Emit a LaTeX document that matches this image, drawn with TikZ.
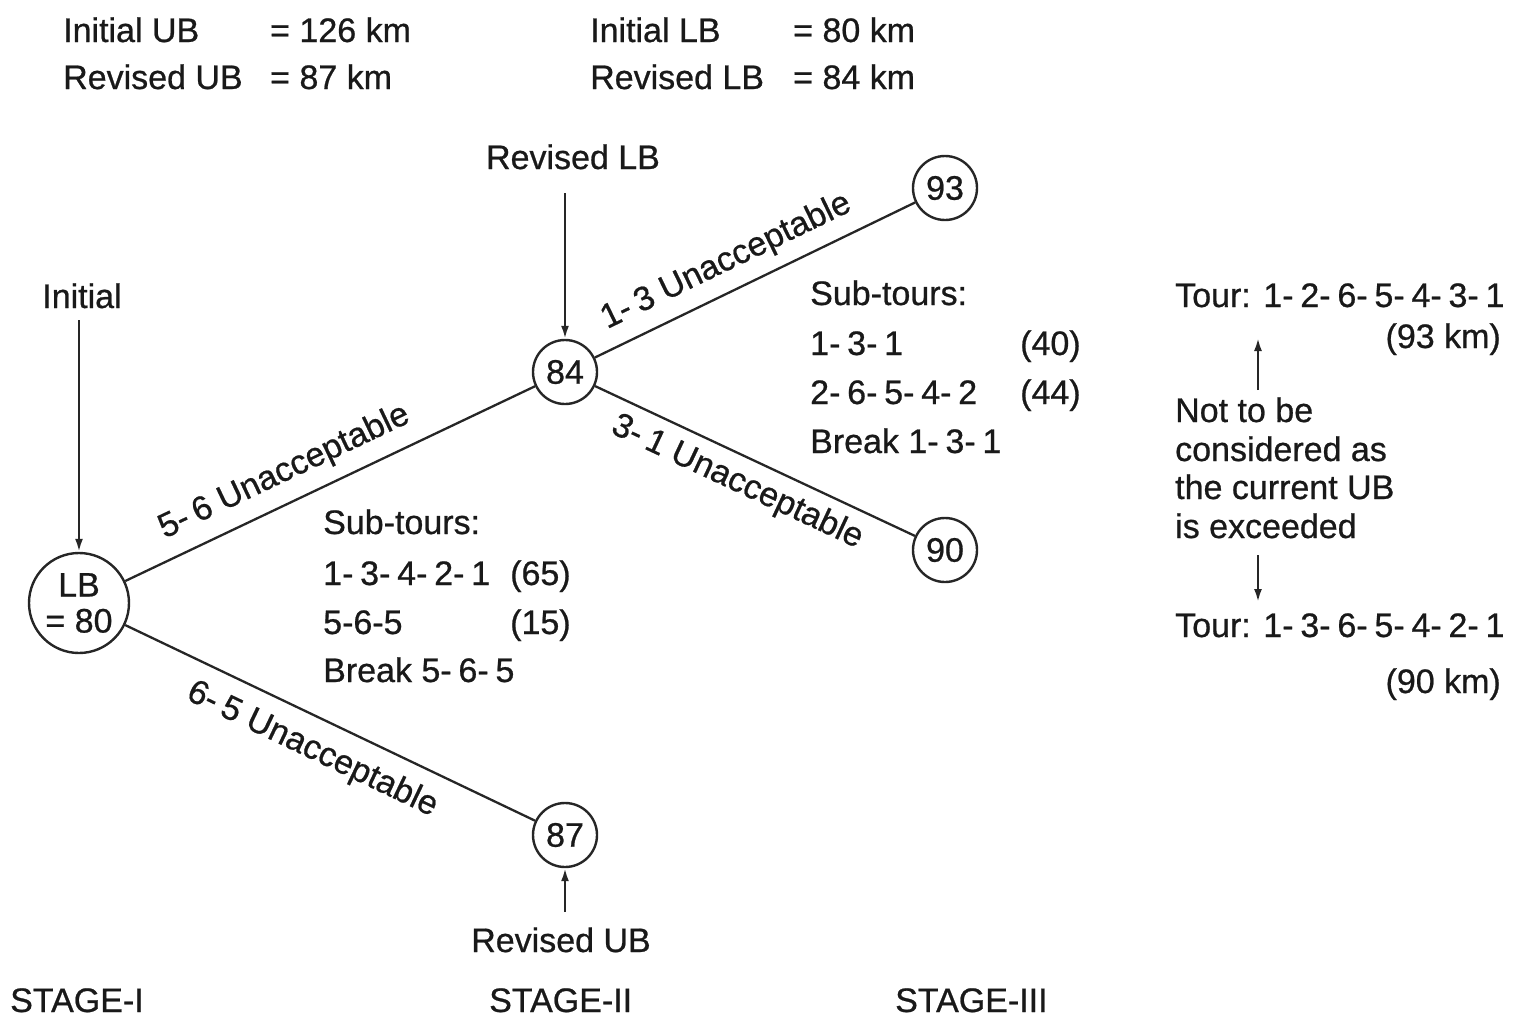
\documentclass[tikz,border=0pt]{standalone}
\usepackage{fontspec}
\setmainfont[FakeBold=0.7]{Liberation Sans}
\usetikzlibrary{arrows.meta}
% tight hyphen used in the tour sequences
\newcommand{\sdash}{-\hspace{0.2em}}
\begin{document}
\begin{tikzpicture}[x=1pt,y=-1pt,
  every node/.style={font=\fontsize{34}{40}\selectfont, inner sep=0pt, text=black!90},
  state/.style={circle, draw=black!85, line width=2.4pt, minimum size=64pt, inner sep=0pt},
  edge/.style={line width=2.3pt, draw=black!85},
  ptr/.style={line width=2.3pt, draw=black!85, -{Latex[length=13pt,width=8pt]}},
  txt/.style={anchor=base west},
  rtxt/.style={anchor=base east},
  ctxt/.style={anchor=base}
]
\useasboundingbox (0,0) rectangle (1513,1017);

% bounds summary
\node[txt] (iub) at (63,42) {Initial UB};
\node[txt] (iubv) at (270,42) {= 126 km};
\node[txt] (rub) at (63,89) {Revised UB};
\node[txt] (rubv) at (270,89) {= 87 km};
\node[txt] (ilb) at (590,42) {Initial LB};
\node[txt] (ilbv) at (793,42) {= 80 km};
\node[txt] (rlb) at (590,89) {Revised LB};
\node[txt] (rlbv) at (793,89) {= 84 km};

% branch and bound tree
\node[state, minimum size=100pt, align=center] (lb) at (79,603) {LB\\[-4pt]= 80};
\node[state] (n84) at (565,372) {84};
\node[state] (n93) at (945,188) {93};
\node[state] (n90) at (945,550) {90};
\node[state] (n87) at (565,835) {87};

\draw[edge] (lb) -- node[pos=0.42, sloped, above=13pt] {5\sdash 6 Unacceptable} (n84);
\draw[edge] (lb) -- node[pos=0.49, sloped, below=15pt] {6\sdash 5 Unacceptable} (n87);
\draw[edge] (n84) -- node[pos=0.45, sloped, above=12pt] {1\sdash 3 Unacceptable} (n93);
\draw[edge] (n84) -- node[pos=0.48, sloped, below=10pt] {3\sdash 1 Unacceptable} (n90);

% pointers to the bounds
\node[ctxt] (tinit) at (82,308) {Initial};
\coordinate (ainit) at (79,320);
\draw[ptr] (ainit) -- (lb);

\node[ctxt] (trlb) at (573,169) {Revised LB};
\coordinate (arlb) at (565,193);
\draw[ptr] (arlb) -- (n84);

\node[ctxt] (trub) at (561,952) {Revised UB};
\coordinate (arub) at (565,912);
\draw[ptr] (arub) -- (n87);

% sub-tours at stage I
\node[txt] (s1h) at (323,534) {Sub-tours:};
\node[txt] (s1a) at (323,585) {1\sdash 3\sdash 4\sdash 2\sdash 1};
\node[txt] (s1av) at (510,585) {(65)};
\node[txt] (s1b) at (323,634) {5-6-5};
\node[txt] (s1bv) at (510,634) {(15)};
\node[txt] (s1c) at (323,682) {Break 5\sdash 6\sdash 5};

% sub-tours at stage II
\node[txt] (s2h) at (810,305) {Sub-tours:};
\node[txt] (s2a) at (810,355) {1\sdash 3\sdash 1};
\node[txt] (s2av) at (1020,355) {(40)};
\node[txt] (s2b) at (810,404) {2\sdash 6\sdash 5\sdash 4\sdash 2};
\node[txt] (s2bv) at (1020,404) {(44)};
\node[txt] (s2c) at (810,453) {Break 1\sdash 3\sdash 1};

% tours at stage III
\node[txt] (t1) at (1175,307) {Tour: 1\sdash 2\sdash 6\sdash 5\sdash 4\sdash 3\sdash 1};
\node[rtxt] (t1v) at (1501,348) {(93 km)};
\node[txt] (nt1) at (1175,422) {Not to be};
\node[txt] (nt2) at (1175,461) {considered as};
\node[txt] (nt3) at (1175,499) {the current UB};
\node[txt] (nt4) at (1175,538) {is exceeded};
\node[txt] (t2) at (1175,637) {Tour: 1\sdash 3\sdash 6\sdash 5\sdash 4\sdash 2\sdash 1};
\node[rtxt] (t2v) at (1501,693) {(90 km)};

\coordinate (up0) at (1258,390);
\coordinate (up1) at (1258,338);
\coordinate (dn0) at (1258,555);
\coordinate (dn1) at (1258,602);
\draw[ptr] (up0) -- (up1);
\draw[ptr] (dn0) -- (dn1);

% stage captions
\node[txt] (st1) at (10,1012) {STAGE-I};
\node[txt] (st2) at (489,1012) {STAGE-II};
\node[txt] (st3) at (895,1012) {STAGE-III};
\end{tikzpicture}
\end{document}
